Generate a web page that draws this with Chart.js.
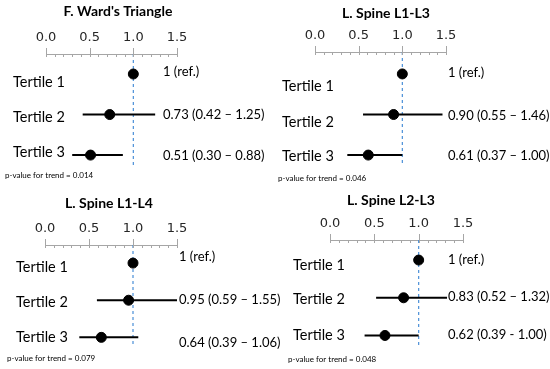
<!DOCTYPE html>
<html>
<head>
<meta charset="utf-8">
<script src="https://cdn.jsdelivr.net/npm/chart.js@4.4.1/dist/chart.umd.min.js"></script>
<style>
  html, body { margin: 0; padding: 0; background: #fff; }
  #wrap { position: relative; width: 550px; height: 369px; overflow: hidden; }
  .panel { position: absolute; }
</style>
</head>
<body>
<div id="wrap"></div>
<script>
// ---- data ----
const panelTitles = ["F. Ward's Triangle", 'L. Spine L1-L3', 'L. Spine L1-L4', 'L. Spine L2-L3'];
const pValues = ['0.014', '0.046', '0.079', '0.048'];
const rows = [1, 2, 3];
const rowLabels = ['Tertile 1', 'Tertile 2', 'Tertile 3'];
const xTickLabels = ['0.0', '0.5', '1.0', '1.5'];

const wardOR = [1, 0.73, 0.51];
const wardLow = [1, 0.42, 0.30];
const wardHigh = [1, 1.25, 0.88];
const wardText = ['1 (ref.)', '0.73 (0.42 \u2013 1.25)', '0.51 (0.30 \u2013 0.88)'];

const l13OR = [1, 0.90, 0.61];
const l13Low = [1, 0.55, 0.37];
const l13High = [1, 1.46, 1.00];
const l13Text = ['1 (ref.)', '0.90 (0.55 \u2013 1.46)', '0.61 (0.37 \u2013 1.00)'];

const l14OR = [1, 0.95, 0.64];
const l14Low = [1, 0.59, 0.39];
const l14High = [1, 1.55, 1.06];
const l14Text = ['1 (ref.)', '0.95 (0.59 \u2013 1.55)', '0.64 (0.39 \u2013 1.06)'];

const l23OR = [1, 0.83, 0.62];
const l23Low = [1, 0.52, 0.39];
const l23High = [1, 1.32, 1.00];
const l23Text = ['1 (ref.)', '0.83 (0.52 \u2013 1.32)', '0.62 (0.39 - 1.00)'];

const orSets = [wardOR, l13OR, l14OR, l23OR];
const lowSets = [wardLow, l13Low, l14Low, l23Low];
const highSets = [wardHigh, l13High, l14High, l23High];
const textSets = [wardText, l13Text, l14Text, l23Text];

// ---- layout of each panel (pixels) ----
const CANVAS_W = 290;
const panelLayout = [
  { left: 0,   top: 0,   h: 185, padL: 46, padR: 113, axisY: 54, yMin: 0.506, yMax: 3.59, titleX: 118, titleY: 11,
    labelX: 13, labelDy: [8, 3, -3], textX: 163, textDy: [-2, 0, 1], pX: 5, pY: 175 },
  { left: 275, top: 0,   h: 185, padL: 40, padR: 119, axisY: 52, yMin: 0.459, yMax: 3.59, titleX: 111, titleY: 13,
    labelX: 7, labelDy: [12, 8, 1], textX: 173, textDy: [-1, 1, 1], pX: 3, pY: 178 },
  { left: 0,   top: 185, h: 184, padL: 45, padR: 113, axisY: 60, yMin: 0.513, yMax: 3.69, titleX: 109, titleY: 18,
    labelX: 16, labelDy: [4, 2, 0], textX: 179, textDy: [-6, 0, 5], pX: 7, pY: 173 },
  { left: 275, top: 185, h: 184, padL: 55, padR: 102, axisY: 55, yMin: 0.468, yMax: 3.73, titleX: 116, titleY: 15,
    labelX: 18, labelDy: [5, 2, 0], textX: 173, textDy: [0, -1, -1], pX: 13, pY: 174 }
];
const AXIS_H = 30;
const REF_END = 3.25;

// draws tick marks, row labels, estimates, title and p-value
const forestDecor = {
    id: 'forestDecor',
    afterDraw(chart, args, opts) {
        const { ctx, chartArea } = chart;
        const x = chart.scales.x, y = chart.scales.y;
        const L = opts.layout, i = opts.index;
        ctx.save();

        // axis tick marks: long at labelled values, short otherwise
        ctx.strokeStyle = '#a6a6a6';
        ctx.lineWidth = 1;
        const top = chartArea.top;
        x.ticks.forEach(t => {
            const v = Math.round(t.value * 10) / 10;
            const major = xTickLabels.includes(v.toFixed(1));
            const px = Math.round(x.getPixelForValue(v)) + 0.5;
            ctx.beginPath();
            ctx.moveTo(px, top - (major ? 6 : 0));
            ctx.lineTo(px, top + 3);
            ctx.stroke();
        });

        ctx.fillStyle = '#000';
        ctx.textBaseline = 'middle';

        ctx.font = 'bold 14px Lato';
        ctx.textAlign = 'center';
        ctx.fillText(panelTitles[i], L.titleX, L.titleY);

        ctx.textAlign = 'left';
        ctx.font = '14.5px Lato';
        rows.forEach((r, k) => {
            ctx.fillText(rowLabels[k], L.labelX, y.getPixelForValue(r) + L.labelDy[k]);
        });
        ctx.font = '13px Lato';
        rows.forEach((r, k) => {
            ctx.fillText(textSets[i][k], L.textX, y.getPixelForValue(r) + L.textDy[k]);
        });

        ctx.font = '8px Lato';
        ctx.fillText('p-value for trend = ' + pValues[i], L.pX, L.pY);
        ctx.restore();
    }
};

const wrap = document.getElementById('wrap');

panelLayout.forEach((L, i) => {
    const box = document.createElement('div');
    box.className = 'panel';
    box.style.left = L.left + 'px';
    box.style.top = L.top + 'px';
    const canvas = document.createElement('canvas');
    canvas.width = CANVAS_W;
    canvas.height = L.h;
    box.appendChild(canvas);
    wrap.appendChild(box);

    const datasets = [];
    // reference line at 1
    datasets.push({
        type: 'line',
        data: [{ x: 1, y: L.yMin }, { x: 1, y: REF_END }],
        borderColor: '#4a8fd8',
        borderWidth: 1.2,
        borderDash: [3, 3],
        pointRadius: 0,
        order: 3
    });
    // confidence intervals
    rows.forEach((r, k) => {
        if (lowSets[i][k] === highSets[i][k]) return;
        datasets.push({
            type: 'line',
            data: [{ x: lowSets[i][k], y: r }, { x: highSets[i][k], y: r }],
            borderColor: '#000',
            borderWidth: 2,
            pointRadius: 0,
            order: 2
        });
    });
    // point estimates
    datasets.push({
        type: 'scatter',
        data: rows.map((r, k) => ({ x: orSets[i][k], y: r })),
        backgroundColor: '#000',
        borderColor: '#000',
        pointRadius: 5,
        order: 1
    });

    new Chart(canvas, {
        data: { datasets },
        options: {
            responsive: false,
            animation: false,
            layout: { padding: { left: L.padL, right: L.padR, top: L.axisY - AXIS_H, bottom: 0 } },
            plugins: {
                legend: { display: false },
                tooltip: { enabled: false },
                forestDecor: { layout: L, index: i }
            },
            scales: {
                x: {
                    type: 'linear',
                    position: 'top',
                    min: 0,
                    max: 1.5,
                    afterFit: s => { s.height = AXIS_H; },
                    grid: { display: false, drawTicks: false },
                    border: { display: true, color: '#a6a6a6', width: 1 },
                    ticks: {
                        stepSize: 0.1,
                        autoSkip: false,
                        maxRotation: 0,
                        padding: 9,
                        color: '#262626',
                        font: { family: 'DejaVu Sans', size: 13 },
                        callback: v => {
                            const s = (Math.round(v * 10) / 10).toFixed(1);
                            return xTickLabels.includes(s) ? s : '';
                        }
                    }
                },
                y: {
                    type: 'linear',
                    display: false,
                    reverse: true,
                    min: L.yMin,
                    max: L.yMax
                }
            }
        },
        plugins: [forestDecor]
    });
});
</script>
</body>
</html>
